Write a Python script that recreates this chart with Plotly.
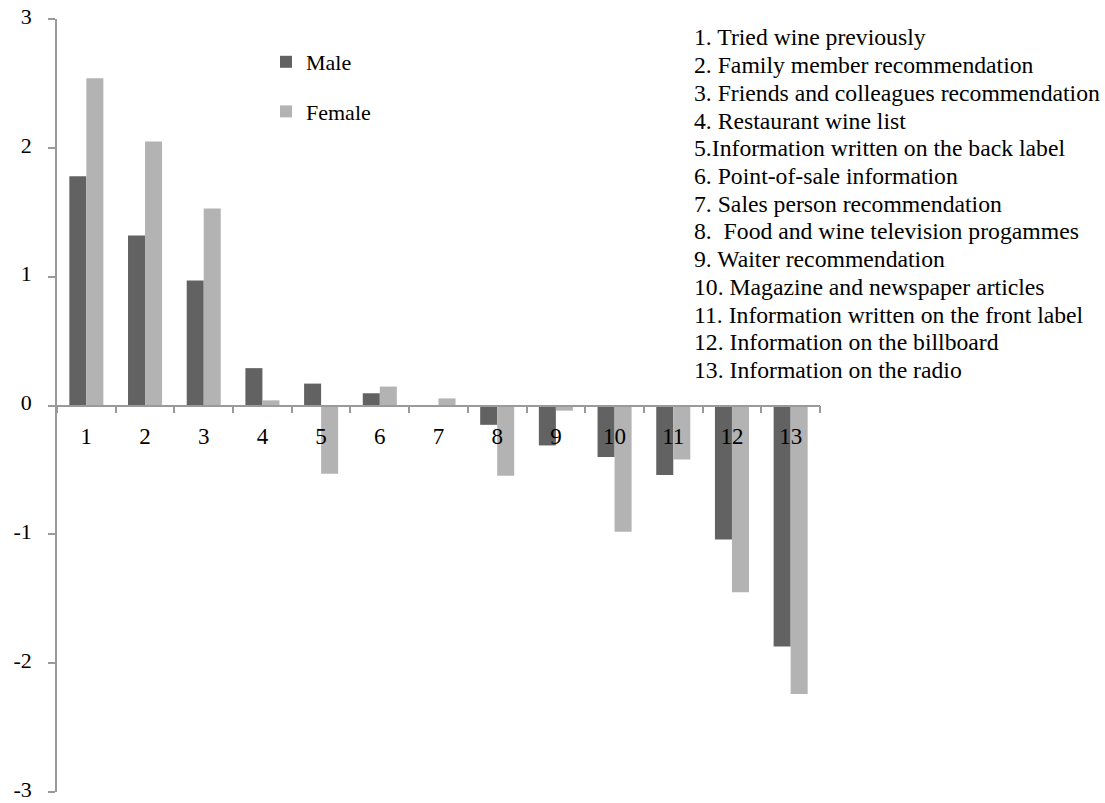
import plotly.graph_objects as go

categories = [str(i) for i in range(1, 14)]
male = [1.78, 1.32, 0.97, 0.29, 0.17, 0.095, 0.0, -0.15, -0.31, -0.40, -0.54, -1.04, -1.87]
female = [2.54, 2.05, 1.53, 0.04, -0.53, 0.147, 0.055, -0.545, -0.04, -0.98, -0.42, -1.45, -2.24]
y_ticks = [-3, -2, -1, 0, 1, 2, 3]
y_tick_labels = ["-3", "-2", "-1", "0", "1", "2", "3"]
list_labels = [
    "1. Tried wine previously",
    "2. Family member recommendation",
    "3. Friends and colleagues recommendation",
    "4. Restaurant wine list",
    "5.Information written on the back label",
    "6. Point-of-sale information",
    "7. Sales person recommendation",
    "8.  Food and wine television progammes",
    "9. Waiter recommendation",
    "10. Magazine and newspaper articles",
    "11. Information written on the front label",
    "12. Information on the billboard",
    "13. Information on the radio",
]

FONT = "Liberation Serif"
W, H = 1105, 803
# plot area in screen pixels: x 57..820, y 19..792
ML, MT = 57, 19
MR = W - 820
MB = H - 792
PW, PH = W - ML - MR, H - MT - MB


def px_x(sx):
    return (sx - ML) / PW


def px_y(sy):
    return (H - MB - sy) / PH


fig = go.Figure()
fig.add_trace(go.Bar(x=categories, y=male, name="Male", marker_color="#626262",
                     marker_line_width=0, legendgroup="m"))
fig.add_trace(go.Bar(x=categories, y=female, name="Female", marker_color="#b3b3b3",
                     marker_line_width=0, legendgroup="f"))

annotations = []
for i, t in enumerate(list_labels):
    annotations.append(dict(
        text=t, xref="paper", yref="paper",
        x=px_x(692), y=px_y(37.5 + 27.7 * i),
        xanchor="left", yanchor="middle", showarrow=False,
        font=dict(family=FONT, size=23.7, color="black"),
    ))

fig.update_layout(
    width=W, height=H,
    margin=dict(l=ML, r=MR, t=MT, b=MB, autoexpand=False),
    paper_bgcolor="white", plot_bgcolor="white",
    barmode="group", bargap=0.42, bargroupgap=0,
    font=dict(family=FONT, size=22, color="black"),
    showlegend=True,
    legend=dict(x=px_x(266), y=px_y(41), xanchor="left", yanchor="top",
                traceorder="grouped", tracegroupgap=18,
                font=dict(family=FONT, size=22, color="black"),
                bgcolor="rgba(0,0,0,0)"),
    annotations=annotations,
    xaxis=dict(
        type="category", anchor="free", position=0.5, automargin=False,
        showline=True, linecolor="#9a9a9a", linewidth=1.5,
        ticks="outside", tickson="boundaries", ticklen=7, tickcolor="#9a9a9a", tickwidth=1.5,
        ticklabelstandoff=10, showgrid=False, zeroline=False, ticklabeloverflow="allow",
        tickfont=dict(family=FONT, size=23, color="black"),
    ),
    yaxis=dict(
        range=[-3, 3], tickmode="array", tickvals=y_ticks, ticktext=y_tick_labels,
        automargin=False, ticklabeloverflow="allow", ticklabelshift=-3,
        showline=True, linecolor="#9a9a9a", linewidth=1.5,
        ticks="outside", ticklen=7, tickcolor="#9a9a9a", tickwidth=1.5,
        ticklabelstandoff=12, showgrid=False, zeroline=False,
        tickfont=dict(family=FONT, size=22, color="black"),
    ),
)

fig.write_html(
    "out.html",
    config={"displayModeBar": False},
    post_script=(
        "document.body.style.margin='0';"
        "document.body.style.overflow='hidden';"
        "document.documentElement.style.overflow='hidden';"
    ),
)
